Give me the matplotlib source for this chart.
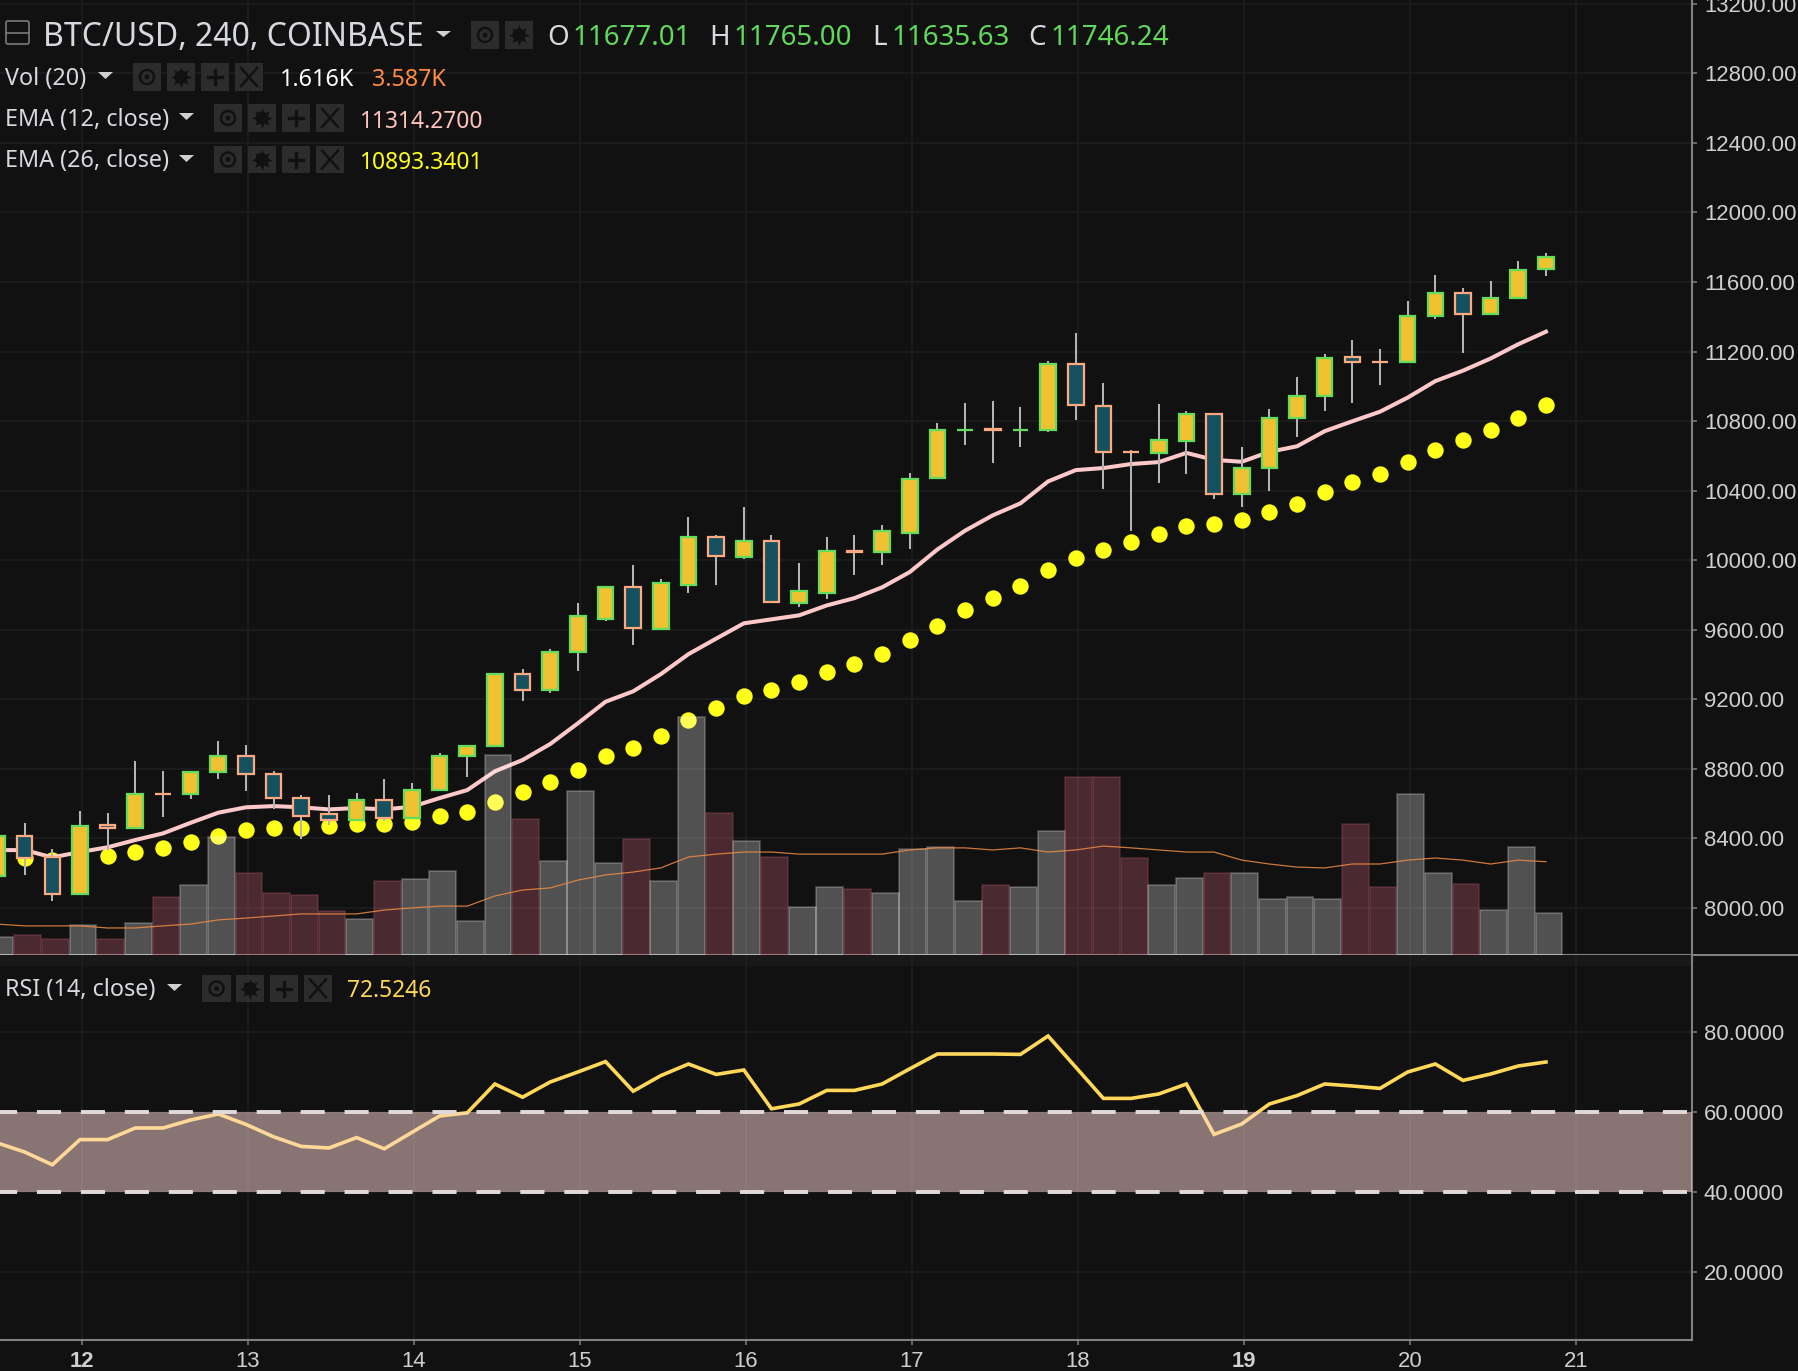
import numpy as np
from matplotlib import pyplot as plt
from matplotlib.lines import Line2D
from matplotlib.patches import Circle, Rectangle, Polygon, FancyBboxPatch

BG = '#111111'
GRID = '#1d1d1d'
AXIS = '#808080'
LABEL = '#cfcfcf'
UP_FILL = '#f0c232'
UP_EDGE = '#62dc5c'
DOWN_FILL = '#14505e'
DOWN_EDGE = '#ffa981'
UI_FONT = 'Noto Sans'

opens = [8184, 8414, 8291, 8080, 8475, 8460, 8657, 8655, 8782, 8874, 8770, 8632, 8540, 8506, 8621, 8517, 8678, 8874,
         8931, 9345, 9253, 9474, 9663, 9844, 9606, 9859, 10131, 10020, 10108, 9756, 9813, 10051, 10047, 10158, 10472,
         10748, 10752, 10748, 10750, 11126, 10889, 10625, 10617, 10688, 10840, 10379, 10531, 10818, 10943, 11166,
         11140, 11139, 11405, 11535, 11415, 11508, 11677]
highs = [8414, 8487, 8337, 8556, 8544, 8843, 8786, 8782, 8958, 8935, 8786, 8648, 8648, 8659, 8740, 8717, 8889, 8931,
         9345, 9372, 9490, 9752, 9850, 9970, 9890, 10246, 10143, 10304, 10143, 9982, 10131, 10143, 10200, 10499, 10790,
         10902, 10915, 10882, 11146, 11305, 11019, 10634, 10900, 10856, 10840, 10650, 10867, 11052, 11187, 11269,
         11215, 11491, 11638, 11567, 11605, 11720, 11765]
lows = [8184, 8191, 8042, 8080, 8333, 8460, 8525, 8628, 8743, 8674, 8571, 8398, 8479, 8506, 8498, 8517, 8678, 8755,
        8931, 9192, 9238, 9362, 9652, 9514, 9606, 9813, 9859, 10009, 9759, 9733, 9778, 9917, 9974, 10066, 10472,
        10664, 10558, 10650, 10740, 10809, 10411, 10167, 10444, 10493, 10351, 10308, 10400, 10710, 10856, 10905,
        11008, 11139, 11388, 11193, 11415, 11508, 11635]
closes = [8414, 8287, 8080, 8471, 8460, 8655, 8655, 8782, 8874, 8770, 8632, 8529, 8506, 8621, 8517, 8678, 8874, 8931,
          9345, 9253, 9472, 9679, 9844, 9610, 9867, 10131, 10024, 10108, 9759, 9821, 10051, 10049, 10166, 10465, 10750,
          10750, 10748, 10750, 11126, 10895, 10623, 10623, 10693, 10840, 10379, 10531, 10818, 10943, 11160, 11139,
          11139, 11405, 11535, 11415, 11508, 11671, 11746]

ema12 = [8333, 8333, 8291, 8322, 8349, 8391, 8429, 8490, 8548, 8579, 8586, 8579, 8567, 8575, 8567, 8582, 8632, 8678,
         8786, 8851, 8943, 9062, 9186, 9246, 9345, 9460, 9549, 9637, 9660, 9683, 9740, 9782, 9844, 9932, 10062, 10170,
         10258, 10327, 10453, 10518, 10530, 10553, 10564, 10617, 10577, 10566, 10623, 10655, 10742, 10799, 10854,
         10935, 11030, 11090, 11160, 11242, 11314]
ema26 = [8270, 8287, 8276, 8295, 8299, 8322, 8345, 8379, 8414, 8448, 8460, 8460, 8471, 8483, 8483, 8494, 8529, 8552,
         8609, 8667, 8724, 8793, 8874, 8920, 8989, 9081, 9150, 9219, 9253, 9299, 9357, 9403, 9460, 9541, 9621, 9713,
         9782, 9851, 9943, 10012, 10058, 10104, 10150, 10196, 10208, 10232, 10278, 10324, 10395, 10449, 10495, 10566,
         10634, 10693, 10748, 10818, 10893]

vol_k = [0.68, 0.76, 0.60, 1.14, 0.60, 1.22, 2.22, 2.68, 4.53, 3.14, 2.37, 2.30, 1.68, 1.37, 2.83, 2.91, 3.22, 1.30,
         7.68, 5.22, 3.60, 6.30, 3.54, 4.46, 2.85, 9.15, 5.46, 4.38, 3.77, 1.85, 2.62, 2.54, 2.38, 4.08, 4.15, 2.08,
         2.69, 2.62, 4.77, 6.85, 6.85, 3.73, 2.69, 2.96, 3.15, 3.15, 2.15, 2.23, 2.15, 5.04, 2.62, 6.19, 3.15, 2.73,
         1.73, 4.15, 1.616]
vol_red = [0, 1, 1, 0, 1, 0, 1, 0, 0, 1, 1, 1, 1, 0, 1, 0, 0, 0, 0, 1, 0, 0, 0, 1, 0, 0, 1, 0, 1, 0, 0, 1, 0, 0, 0, 0,
           1, 0, 0, 1, 1, 1, 0, 0, 1, 0, 0, 0, 0, 1, 1, 0, 0, 1, 0, 0, 0]
vol_sma_k = [1.19, 1.12, 1.12, 1.12, 1.04, 1.04, 1.12, 1.19, 1.35, 1.42, 1.50, 1.58, 1.58, 1.58, 1.73, 1.81, 1.88, 1.88,
             2.27, 2.50, 2.58, 2.88, 3.08, 3.19, 3.35, 3.77, 3.88, 3.96, 3.96, 3.88, 3.88, 3.88, 3.88, 4.04, 4.12, 4.12,
             4.04, 4.12, 3.96, 4.04, 4.19, 4.12, 4.04, 3.96, 3.96, 3.65, 3.50, 3.38, 3.35, 3.50, 3.50, 3.65, 3.73, 3.65,
             3.50, 3.65, 3.587]

rsi = [52.3, 50.0, 46.8, 53.1, 53.1, 56.0, 56.0, 58.0, 59.5, 56.9, 53.8, 51.4, 51.0, 53.6, 50.8, 54.9, 59.0, 59.8,
       67.0, 63.7, 67.5, 70.0, 72.6, 65.2, 69.1, 72.0, 69.4, 70.5, 60.8, 62.0, 65.4, 65.4, 67.0, 70.8, 74.5, 74.5,
       74.5, 74.4, 79.0, 71.2, 63.4, 63.4, 64.5, 67.0, 54.4, 57.0, 62.0, 64.1, 67.0, 66.5, 65.9, 70.0, 72.0, 67.9,
       69.5, 71.5, 72.5]

day_labels = ['12', '13', '14', '15', '16', '17', '18', '19', '20', '21']
bold_days = ['12', '19']
price_ticks = list(range(8000, 13201, 400))
rsi_ticks = [20, 40, 60, 80]

W, H = 1799, 1371
PX_PER_CANDLE = 27.66
AXIS_X = 1692
MAIN_BOTTOM = 955
RSI_BOTTOM = 1340
PRICE_PX = 0.1739   # pixels per dollar
VOL_PX = 26.0       # pixels per 1K of volume

x = np.arange(len(closes))
day_pos = [3.07 + 6.0014 * k for k in range(len(day_labels))]
xlim = (3 / PX_PER_CANDLE, (AXIS_X + 3) / PX_PER_CANDLE)

fig = plt.figure(figsize=(W / 100, H / 100), dpi=100, facecolor=BG)

ax = fig.add_axes([0, 1 - MAIN_BOTTOM / H, AXIS_X / W, MAIN_BOTTOM / H], facecolor=BG)
ax_rsi = fig.add_axes([0, 1 - RSI_BOTTOM / H, AXIS_X / W, (RSI_BOTTOM - MAIN_BOTTOM) / H], facecolor=BG)

### VOLUME OVERLAY (twinx first, it flips the price ticks otherwise) ###
ax_vol = ax.twinx()
ax_vol.set_ylim(0, MAIN_BOTTOM / VOL_PX)
ax_vol.set_yticks([])
ax_vol.patch.set_visible(False)
for side in ax_vol.spines:
    ax_vol.spines[side].set_visible(False)
for i in x:
    if vol_red[i]:
        ax_vol.bar(i + 0.11, vol_k[i], width=0.97, facecolor=(0.81, 0.39, 0.47, 0.3),
                   edgecolor=(0.81, 0.39, 0.47, 0.2), linewidth=1.4, zorder=5)
    else:
        ax_vol.bar(i + 0.11, vol_k[i], width=0.97, facecolor=(1, 1, 1, 0.27),
                   edgecolor=(1, 1, 1, 0.2), linewidth=1.4, zorder=5)
ax_vol.plot(x, vol_sma_k, color='#f08a42', linewidth=0.9, alpha=0.85, zorder=6)

### PRICE PANEL ###
ax.set_xlim(xlim)
ax.set_ylim(8000 - (MAIN_BOTTOM - 908) / PRICE_PX, 8000 + 908 / PRICE_PX)
ax.yaxis.tick_right()
ax.set_yticks(price_ticks)
ax.set_yticklabels(['%.2f' % t for t in price_ticks])
ax.set_xticks(day_pos)
ax.tick_params(axis='x', length=0, labelbottom=False)
ax.grid(True, color=GRID, linewidth=1.3, zorder=0)
ax.set_axisbelow(True)

ax.plot(x, ema26, linestyle='none', marker='o', markersize=11.8, color='#ffff1a', markeredgewidth=0, zorder=2)
ax.plot(x, ema12, color='#ffc9c9', linewidth=2.9, zorder=2.5, solid_joinstyle='round')

ax.vlines(x, lows, highs, color='#b4b4b4', linewidth=1.45, zorder=3)
for i in x:
    up = closes[i] >= opens[i]
    if i in (35, 37):
        edge, fill = UP_EDGE, UP_FILL
    else:
        edge, fill = (UP_EDGE, UP_FILL) if up else (DOWN_EDGE, DOWN_FILL)
    bottom = min(opens[i], closes[i])
    ax.bar(i, abs(closes[i] - opens[i]), bottom=bottom, width=0.565, facecolor=fill, edgecolor=edge,
           linewidth=1.6, zorder=4)

### RSI PANEL ###
ax_rsi.set_xlim(xlim)
ax_rsi.set_ylim(80 - (RSI_BOTTOM - 1032) / 4, 80 + (1032 - MAIN_BOTTOM) / 4)
ax_rsi.set_yticks(rsi_ticks)
ax_rsi.set_yticklabels(['%.4f' % t for t in rsi_ticks])
ax_rsi.yaxis.tick_right()
ax_rsi.set_xticks(day_pos)
ax_rsi.set_xticklabels(day_labels)
for lab in ax_rsi.get_xticklabels():
    if lab.get_text() in bold_days:
        lab.set_fontweight('bold')
ax_rsi.grid(True, color=GRID, linewidth=1.3, zorder=0)
ax_rsi.set_axisbelow(True)
ax_rsi.axhspan(96.6, 99.5, color='#181818', linewidth=0, zorder=0.5)

ax_rsi.plot(x, rsi, color='#ffd85a', linewidth=2.6, zorder=2, solid_joinstyle='miter')
ax_rsi.axhspan(40, 60, facecolor='#ffd9d5', alpha=0.5, linewidth=0, zorder=3)
for level in (40, 60):
    ax_rsi.axhline(level, color='#e2dada', linewidth=2.8, linestyle=(1.8, (6.2, 5.1)), zorder=4)

for a in (ax, ax_rsi):
    a.spines['left'].set_visible(False)
    a.spines['top'].set_visible(False)
    a.spines['right'].set_color(AXIS)
    a.spines['right'].set_linewidth(1.5)
    a.spines['bottom'].set_color(AXIS)
    a.spines['bottom'].set_linewidth(1.5)
    a.tick_params(axis='y', color=AXIS, width=1.1, length=3.6, pad=5, labelcolor=LABEL, labelsize=15.9)
    for lab in a.get_yticklabels():
        lab.set_fontfamily('Liberation Sans')
ax_rsi.tick_params(axis='x', color=AXIS, width=1.1, length=3.6, pad=4, labelcolor=LABEL, labelsize=15.9)
for lab in ax_rsi.get_xticklabels():
    lab.set_fontfamily('Liberation Sans')

### HEADER OVERLAY, drawn in screen pixels ###
ui = fig.add_axes([0, 0, 1, 1], facecolor='none', zorder=10)
ui.set_xlim(0, W)
ui.set_ylim(H, 0)
ui.axis('off')

ui.add_line(Line2D([AXIS_X, W], [MAIN_BOTTOM, MAIN_BOTTOM], color=AXIS, linewidth=1.5))


def label(px, py, text, color='#d6dae0', size=16.8):
    ui.text(px, py, text, color=color, fontsize=size, family=UI_FONT, ha='left', va='center')


def triangle(x0, x1, y0, y1):
    ui.add_patch(Polygon([(x0, y0), (x1, y0), ((x0 + x1) / 2, y1)], closed=True, facecolor='#d0d0d0', edgecolor='none'))


def icon(kind, x0, x1, y0, y1):
    ui.add_patch(Rectangle((x0, y0), x1 - x0, y1 - y0, facecolor='#2c2c2c', edgecolor='none'))
    cx, cy = (x0 + x1) / 2, (y0 + y1) / 2
    dark = '#111111'
    if kind == 'eye':
        ui.add_patch(Circle((cx, cy), 7, facecolor='none', edgecolor=dark, linewidth=1.8))
        ui.add_patch(Circle((cx, cy), 2.5, facecolor=dark, edgecolor='none'))
    elif kind == 'gear':
        ui.plot([cx], [cy], marker=(8, 1, 0), markersize=15, color=dark, markeredgewidth=0)
        ui.add_patch(Circle((cx, cy), 6.5, facecolor=dark, edgecolor='none'))
        ui.add_patch(Circle((cx, cy), 3, facecolor='#2c2c2c', edgecolor='none'))
    elif kind == 'plus':
        ui.plot([cx - 7, cx + 7], [cy, cy], color=dark, linewidth=2.4)
        ui.plot([cx, cx], [cy - 7, cy + 7], color=dark, linewidth=2.4)
    else:
        ui.plot([cx - 8, cx + 8], [cy - 9, cy + 9], color=dark, linewidth=1.8)
        ui.plot([cx - 8, cx + 8], [cy + 9, cy - 9], color=dark, linewidth=1.8)


ui.add_patch(FancyBboxPatch((6, 21), 23, 23, boxstyle='round,pad=0,rounding_size=2', facecolor='none',
                            edgecolor='#7a7a7a', linewidth=1.2))
ui.plot([6, 29], [32.5, 32.5], color='#7a7a7a', linewidth=1.2)

label(43, 37, 'BTC/USD, 240, COINBASE', size=23)
triangle(436, 451, 31, 37)
icon('eye', 471, 499, 21, 49)
icon('gear', 505, 533, 21, 49)

green = '#62d85c'
label(547, 38, 'O', size=20)
label(573, 38, '11677.01', green, 20)
label(709, 38, 'H', size=20)
label(734, 38, '11765.00', green, 20)
label(872, 38, 'L', size=20)
label(892, 38, '11635.63', green, 20)
label(1028, 38, 'C', size=20)
label(1051, 38, '11746.24', green, 20)

label(5, 79, 'Vol (20)')
triangle(98, 113, 72, 79)
for kind, (a, b) in zip(['eye', 'gear', 'plus', 'x'], [(133, 161), (167, 195), (201, 229), (235, 263)]):
    icon(kind, a, b, 63, 91)
label(280, 80, '1.616K', '#ffffff')
label(372, 80, '3.587K', '#ff8c42')

label(5, 120, 'EMA (12, close)')
triangle(179, 194, 113, 120)
for kind, (a, b) in zip(['eye', 'gear', 'plus', 'x'], [(214, 242), (248, 276), (282, 310), (316, 344)]):
    icon(kind, a, b, 104, 132)
label(359, 122, '11314.2700', '#ffc4bc', 16.4)

label(5, 161, 'EMA (26, close)')
triangle(179, 194, 155, 162)
for kind, (a, b) in zip(['eye', 'gear', 'plus', 'x'], [(214, 242), (248, 276), (282, 310), (316, 344)]):
    icon(kind, a, b, 146, 173)
label(359, 163, '10893.3401', '#ffff1a', 16.4)

label(5, 990, 'RSI (14, close)')
triangle(167, 182, 984, 991)
for kind, (a, b) in zip(['eye', 'gear', 'plus', 'x'], [(202, 231), (236, 264), (270, 298), (304, 332)]):
    icon(kind, a, b, 975, 1002)
label(347, 991, '72.5246', '#ffd85a', 16.4)

plt.savefig('out.png', dpi=100, facecolor=BG)
